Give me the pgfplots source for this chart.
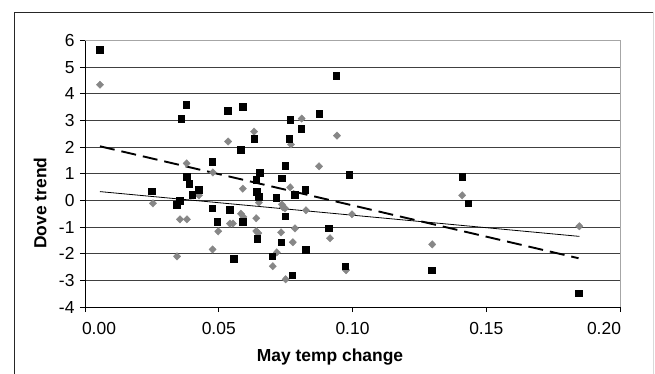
\documentclass[border=0pt]{standalone}
\usepackage{fontspec}
\setmainfont{Liberation Sans}
\usepackage{pgfplots}
\pgfplotsset{compat=1.18}
\definecolor{dgray}{RGB}{135,135,135}
\begin{document}
\begin{tikzpicture}[x=1bp,y=1bp]
\path[use as bounding box] (-85,-66) rectangle (570,307);
\fill[white] (-85,-66) rectangle (570,307);
\draw[black!85, line width=0.9bp] (-71,-70) -- (-71,295) -- (568,295);
\draw[black!15, line width=0.9bp] (568,295) -- (568,-70);
\begin{axis}[at={(0,0)}, anchor=south west, scale only axis,
  width=535bp, height=266.5bp,
  xmin=0, xmax=0.2, ymin=-4, ymax=6,
  axis lines*=left,
  tick align=outside,
  xtick={0,0.05,0.1,0.15,0.2}, ytick={-4,-3,...,6},
  xticklabels={\hspace*{28bp}0.00,0.05,0.10,0.15,0.20\hspace*{32bp}},
  scaled x ticks=false,
  xticklabel style={yshift=-7bp},
  yticklabel style={xshift=-2bp},
  /pgf/number format/assume math mode=true,
  tick label style={font=\fontsize{17.5}{20}\selectfont},
  label style={font=\bfseries\fontsize{17.5}{20}\selectfont},
  ymajorgrids, grid style={black!75, line width=0.8bp},
  major tick length=5bp, tick style={black, line width=0.8bp},
  axis line style={black, line width=0.9bp},
  xlabel={May temp change}, ylabel={Dove trend},
  xlabel style={at={(axis description cs:0.458,-0.2026)}, anchor=base},
  ylabel style={at={(axis description cs:-0.084,0.39)}, anchor=center},
  clip=false]
\draw[black!35, line width=0.8bp] (rel axis cs:0,1) -- (rel axis cs:1,1) -- (rel axis cs:1,0);
\addplot[only marks, mark=diamond*, mark size=3.7bp, color=dgray, mark options={fill=dgray, draw=dgray, xscale=1.3}] coordinates {
(0.0056,4.34) (0.0380,1.39) (0.0478,1.05) (0.0254,-0.11) (0.0355,-0.71)
(0.0381,-0.71) (0.0344,-2.10) (0.0426,0.19) (0.0498,-1.16) (0.0477,-1.84)
(0.0590,0.44) (0.0542,-0.87) (0.0553,-0.87) (0.0583,-0.50) (0.0592,-0.62)
(0.0650,-0.08) (0.0640,-0.67) (0.0640,-1.15) (0.0648,-1.23) (0.0736,-0.15)
(0.0740,-0.26) (0.0748,-0.30) (0.0733,-1.20) (0.0777,-1.57) (0.0785,-1.05)
(0.0717,-1.95) (0.0702,-2.47) (0.0750,-2.96) (0.0767,0.49) (0.0826,-0.37)
(0.0916,-1.42) (0.0998,-0.52) (0.0976,-2.62) (0.0810,3.07) (0.0535,2.21)
(0.0632,2.58) (0.0770,2.10) (0.0942,2.43) (0.0875,1.28) (0.1410,0.19)
(0.1298,-1.65) (0.1848,-0.97)
};
\addplot[only marks, mark=square*, mark size=3.3bp, color=black] coordinates {
(0.0056,5.66) (0.0378,3.60) (0.0359,3.07) (0.0475,1.46) (0.0380,0.90)
(0.0389,0.62) (0.0426,0.41) (0.0250,0.35) (0.0343,-0.17) (0.0355,0.00)
(0.0400,0.22) (0.0475,-0.30) (0.0494,-0.79) (0.0540,-0.34) (0.0555,-2.18)
(0.0590,-0.79) (0.0642,0.33) (0.0650,0.15) (0.0714,0.11) (0.0643,-1.43)
(0.0748,-0.60) (0.0733,-1.57) (0.0700,-2.10) (0.0775,-2.80) (0.0785,0.22)
(0.0823,0.41) (0.0826,-1.84) (0.0912,-1.05) (0.0972,-2.47) (0.0939,4.68)
(0.0534,3.37) (0.0590,3.52) (0.0767,3.03) (0.0875,3.26) (0.0808,2.70)
(0.0632,2.32) (0.0763,2.32) (0.0583,1.90) (0.0748,1.30) (0.0987,0.97)
(0.0654,1.05) (0.0736,0.83) (0.0640,0.78) (0.1410,0.90) (0.1432,-0.11)
(0.1297,-2.62) (0.1845,-3.48)
};
\addplot[black, line width=1.9bp, dash pattern=on 15bp off 7bp] coordinates {(0.0056,2.03) (0.1845,-2.17)};
\addplot[black, line width=0.8bp] coordinates {(0.0056,0.33) (0.1848,-1.35)};
\end{axis}
\end{tikzpicture}
\end{document}
